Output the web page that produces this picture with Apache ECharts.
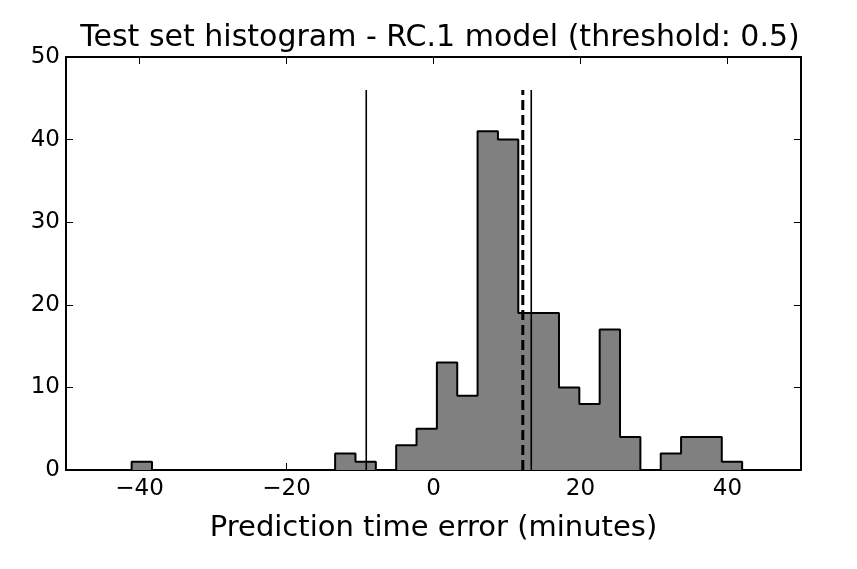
<!DOCTYPE html>
<html>
<head>
<meta charset="utf-8">
<script src="https://cdn.jsdelivr.net/npm/echarts@6/dist/echarts.min.js"></script>
<style>html,body{margin:0;padding:0;background:#fff}#c{width:857px;height:569px}</style>
</head>
<body>
<div id="c"></div>
<script>
// Histogram definition (30 bins spanning data range)
var histMin = -41.07;
var histMax = 41.99;
var counts = [1,0,0,0,0,0,0,0,0,0,2,1,0,3,5,13,9,41,40,19,19,10,8,17,4,0,2,4,4,1];
// Vertical reference lines
var solidLines = [-9.15, 13.3];
var dashedLines = [12.15];
var lineTop = 46;
var xTicks = [-40, -20, 0, 20, 40];
var yTicks = [0, 10, 20, 30, 40, 50];
var titleText = 'Test set histogram - RC.1 model (threshold: 0.5)';
var xName = 'Prediction time error (minutes)';

var nb = counts.length;
var w = (histMax - histMin) / nb;
var step = [[histMin, 0]];
for (var i = 0; i < nb; i++) {
  var a = histMin + i * w, b = histMin + (i + 1) * w;
  step.push([a, counts[i]]);
  step.push([b, counts[i]]);
}
step.push([histMax, 0]);

var font = 'DejaVu Sans';
var fmt = function (v) { return String(v).replace('-', '\u2212'); };
var series = [{
  type: 'line', data: step, symbol: 'none', silent: true,
  lineStyle: { color: '#000', width: 2 },
  areaStyle: { color: '#808080', opacity: 1 },
  z: 2
}];
solidLines.forEach(function (x) {
  series.push({ type: 'line', data: [[x, 0], [x, lineTop]], symbol: 'none', silent: true,
    lineStyle: { color: '#000', width: 1.6 }, z: 3 });
});
dashedLines.forEach(function (x) {
  series.push({ type: 'line', data: [[x, 0], [x, lineTop]], symbol: 'none', silent: true,
    lineStyle: { color: '#000', width: 3, type: [10, 5] }, z: 3 });
});

var axLine = { show: true, onZero: false, lineStyle: { color: '#000', width: 2 } };
var chart = echarts.init(document.getElementById('c'), null, { renderer: 'canvas' });
chart.setOption({
  animation: false,
  backgroundColor: '#fff',
  title: { text: titleText, left: 435, top: 18, textAlign: 'center',
    textStyle: { fontFamily: font, fontSize: 30, fontWeight: 'normal', color: '#000' } },
  grid: { left: 66, right: 56, top: 57, bottom: 99, containLabel: false },
  xAxis: [{
    type: 'value', min: -50, max: 50, interval: 10, position: 'bottom',
    name: xName, nameLocation: 'middle', nameGap: 44,
    nameTextStyle: { fontFamily: font, fontSize: 29, color: '#000' },
    axisLine: axLine,
    axisTick: { show: true, inside: true, length: 7, customValues: xTicks, lineStyle: { color: '#000', width: 1 } },
    axisLabel: { show: true, customValues: xTicks, formatter: fmt, margin: 8, fontFamily: font, fontSize: 23, color: '#000' },
    splitLine: { show: false }
  }, {
    type: 'value', min: -50, max: 50, interval: 10, position: 'top',
    axisLine: axLine,
    axisTick: { show: true, inside: true, length: 7, customValues: xTicks, lineStyle: { color: '#000', width: 1 } },
    axisLabel: { show: false }, splitLine: { show: false }
  }],
  yAxis: [{
    type: 'value', min: 0, max: 50, interval: 10, position: 'left',
    axisLine: axLine,
    axisTick: { show: true, inside: true, length: 7, lineStyle: { color: '#000', width: 1 } },
    axisLabel: { show: true, margin: 6, fontFamily: font, fontSize: 23, color: '#000' },
    splitLine: { show: false }
  }, {
    type: 'value', min: 0, max: 50, interval: 10, position: 'right',
    axisLine: axLine,
    axisTick: { show: true, inside: true, length: 7, lineStyle: { color: '#000', width: 1 } },
    axisLabel: { show: false }, splitLine: { show: false }
  }],
  series: series
});
</script>
</body>
</html>
